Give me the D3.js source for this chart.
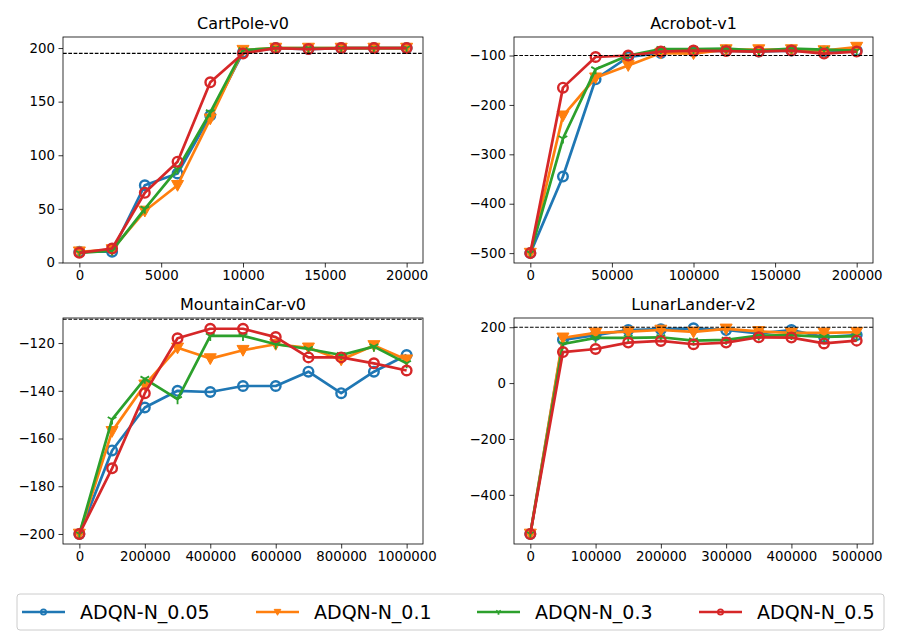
<!DOCTYPE html>
<html>
<head>
<meta charset="utf-8">
<script src="https://cdn.jsdelivr.net/npm/d3@7"></script>
<style>
  body { margin: 0; background: #fff; }
  svg { font-family: "DejaVu Sans", sans-serif; }
</style>
</head>
<body>
<svg id="fig" width="900" height="640"></svg>
<script>
var seriesNames = ["ADQN-N_0.05", "ADQN-N_0.1", "ADQN-N_0.3", "ADQN-N_0.5"]
var colors = ["#1f77b4", "#ff7f0e", "#2ca02c", "#d62728"]
var markers = ["circle", "triangle", "tri", "circle"]

// CartPole-v0
var cartX = [0, 2000, 4000, 6000, 8000, 10000, 12000, 14000, 16000, 18000, 20000]
var cartY = [
  [10, 10, 72, 83, 137, 196, 200, 199, 200, 200, 200],
  [10, 12, 48, 72, 134, 198, 200, 200, 200, 200, 200],
  [9, 11, 50, 87, 140, 198, 200, 200, 200, 200, 200],
  [9, 13, 65, 94, 168, 195, 200, 199, 200, 200, 200]
]
var cartTicksX = [0, 5000, 10000, 15000, 20000]
var cartTicksY = [0, 50, 100, 150, 200]

// Acrobot-v1
var acroX = [0, 20000, 40000, 60000, 80000, 100000, 120000, 140000, 160000, 180000, 200000]
var acroY = [
  [-500, -345, -148, -103, -95, -92, -90, -92, -90, -92, -90],
  [-500, -222, -145, -120, -95, -96, -88, -88, -88, -90, -83],
  [-500, -268, -128, -100, -87, -87, -86, -90, -86, -88, -90],
  [-500, -165, -103, -100, -92, -90, -91, -92, -90, -96, -92]
]
var acroTicksX = [0, 50000, 100000, 150000, 200000]
var acroTicksY = [-500, -400, -300, -200, -100]

// MountainCar-v0
var mountX = [0, 100000, 200000, 300000, 400000, 500000, 600000, 700000, 800000, 900000, 1000000]
var mountY = [
  [-200, -165, -147, -140, -140.5, -138, -138, -132, -141, -132, -125],
  [-200, -157, -137.5, -122, -126.5, -123, -120.5, -122, -127, -121, -127],
  [-200, -152, -135, -143.5, -117, -117, -120.5, -122.5, -125, -121.5, -128.5],
  [-200, -172.5, -141, -118, -114, -114, -117.5, -126, -126, -128.5, -131.5]
]
var mountTicksX = [0, 200000, 400000, 600000, 800000, 1000000]
var mountTicksY = [-200, -180, -160, -140, -120]

// LunarLander-v2
var lunarX = [0, 50000, 100000, 150000, 200000, 250000, 300000, 350000, 400000, 450000, 500000]
var lunarY = [
  [-540, 155, 172, 190, 193, 196, 190, 178, 190, 165, 172],
  [-540, 162, 180, 184, 190, 183, 194, 185, 180, 180, 182],
  [-540, 140, 162, 162, 164, 152, 155, 170, 172, 165, 168],
  [-540, 111, 122, 145, 151, 139, 145, 164, 163, 142, 152]
]
var lunarTicksX = [0, 100000, 200000, 300000, 400000, 500000]
var lunarTicksY = [-400, -200, 0, 200]

var thresholds = [195, -100, -110, 200]

var panels = [
  {title: "CartPole-v0", x: cartX, y: cartY, tx: cartTicksX, ty: cartTicksY, thr: thresholds[0],
   box: [63, 37, 423, 263], ydom: [-0.5, 210.3]},
  {title: "Acrobot-v1", x: acroX, y: acroY, tx: acroTicksX, ty: acroTicksY, thr: thresholds[1],
   box: [514, 37, 873, 263], ydom: [-520, -62.5]},
  {title: "MountainCar-v0", x: mountX, y: mountY, tx: mountTicksX, ty: mountTicksY, thr: thresholds[2],
   box: [63, 318, 423, 544], ydom: [-204.2, -109.5]},
  {title: "LunarLander-v2", x: lunarX, y: lunarY, tx: lunarTicksX, ty: lunarTicksY, thr: thresholds[3],
   box: [514, 318, 873, 544], ydom: [-576, 233]}
]

var svg = d3.select("#fig")
const minus = s => String(s).replace("-", "\u2212")

// k scales the marker (legend uses smaller ones)
function drawMarker(g, type, color, x, y, k) {
  k = k || 1
  if (type == "circle") {
    g.append("circle").attr("cx", x).attr("cy", y).attr("r", 4.8 * k)
      .attr("fill", "none").attr("stroke", color).attr("stroke-width", 2.4 * Math.sqrt(k))
  } else if (type == "triangle") {
    var a = 6 * k
    g.append("path").attr("d", `M${x-a},${y-a*0.8}L${x+a},${y-a*0.8}L${x},${y+a}Z`)
      .attr("fill", color).attr("stroke", color).attr("stroke-width", 1)
  } else {
    var r = 5 * k
    g.append("path")
      .attr("d", `M${x},${y}L${x},${y+r}M${x},${y}L${x-r*0.866},${y-r*0.5}M${x},${y}L${x+r*0.866},${y-r*0.5}`)
      .attr("stroke", color).attr("stroke-width", 1.8).attr("fill", "none")
  }
}

panels.forEach(p => {
  var [x0, y0, x1, y1] = p.box
  var xmin = d3.min(p.x), xmax = d3.max(p.x), pad = (xmax - xmin) * 0.05
  var xs = d3.scaleLinear().domain([xmin - pad, xmax + pad]).range([x0, x1])
  var ys = d3.scaleLinear().domain(p.ydom).range([y1, y0])
  var g = svg.append("g")

  var clipId = "clip" + p.title.replace(/[^a-z0-9]/gi, "")
  svg.append("clipPath").attr("id", clipId).append("rect")
    .attr("x", x0).attr("y", y0).attr("width", x1 - x0).attr("height", y1 - y0)

  var plot = g.append("g").attr("clip-path", `url(#${clipId})`)

  var line = d3.line().x((d, i) => xs(p.x[i])).y(d => ys(d))
  p.y.forEach((vals, s) => {
    var sg = plot.append("g")
    sg.append("path").datum(vals).attr("d", line)
      .attr("fill", "none").attr("stroke", colors[s]).attr("stroke-width", 2.7)
      .attr("stroke-linejoin", "round")
    vals.forEach((v, i) => drawMarker(sg, markers[s], colors[s], xs(p.x[i]), ys(v)))
  })

  plot.append("line").attr("x1", x0).attr("x2", x1)
    .attr("y1", ys(p.thr)).attr("y2", ys(p.thr))
    .attr("stroke", "#000").attr("stroke-width", 1.1).attr("stroke-dasharray", "3.7,1.6")

  var xAxis = d3.axisBottom(xs).tickValues(p.tx).tickSize(4.5).tickPadding(3.5).tickFormat(d => d)
  var yAxis = d3.axisLeft(ys).tickValues(p.ty).tickSize(4.5).tickPadding(3.5).tickFormat(d => minus(d))
  var gx = g.append("g").attr("transform", `translate(0,${y1})`).call(xAxis)
  var gy = g.append("g").attr("transform", `translate(${x0},0)`).call(yAxis)
  ;[gx, gy].forEach(a => {
    a.select(".domain").remove()
    a.selectAll("text").attr("font-size", "13.3px").attr("fill", "#000")
      .attr("font-family", "DejaVu Sans")
    a.selectAll("line").attr("stroke", "#000").attr("stroke-width", 0.8)
  })

  g.append("rect").attr("x", x0).attr("y", y0).attr("width", x1 - x0).attr("height", y1 - y0)
    .attr("fill", "none").attr("stroke", "#000").attr("stroke-width", 0.8)

  g.append("text").attr("x", (x0 + x1) / 2).attr("y", y0 - 8)
    .attr("text-anchor", "middle").attr("font-size", "16px").text(p.title)
})

// legend
var leg = svg.append("g")
leg.append("rect").attr("x", 17).attr("y", 594).attr("width", 867).attr("height", 36)
  .attr("rx", 3).attr("fill", "#fff").attr("fill-opacity", 0.8)
  .attr("stroke", "#cccccc").attr("stroke-width", 1)
var legX = [22, 256, 477, 699]
seriesNames.forEach((name, s) => {
  var lx = legX[s], ly = 612
  leg.append("line").attr("x1", lx).attr("x2", lx + 43).attr("y1", ly).attr("y2", ly)
    .attr("stroke", colors[s]).attr("stroke-width", 2.7)
  drawMarker(leg, markers[s], colors[s], lx + 21.5, ly, 0.55)
  leg.append("text").attr("x", lx + 58).attr("y", ly + 7)
    .attr("font-size", "19px").text(name)
})
</script>
</body>
</html>
